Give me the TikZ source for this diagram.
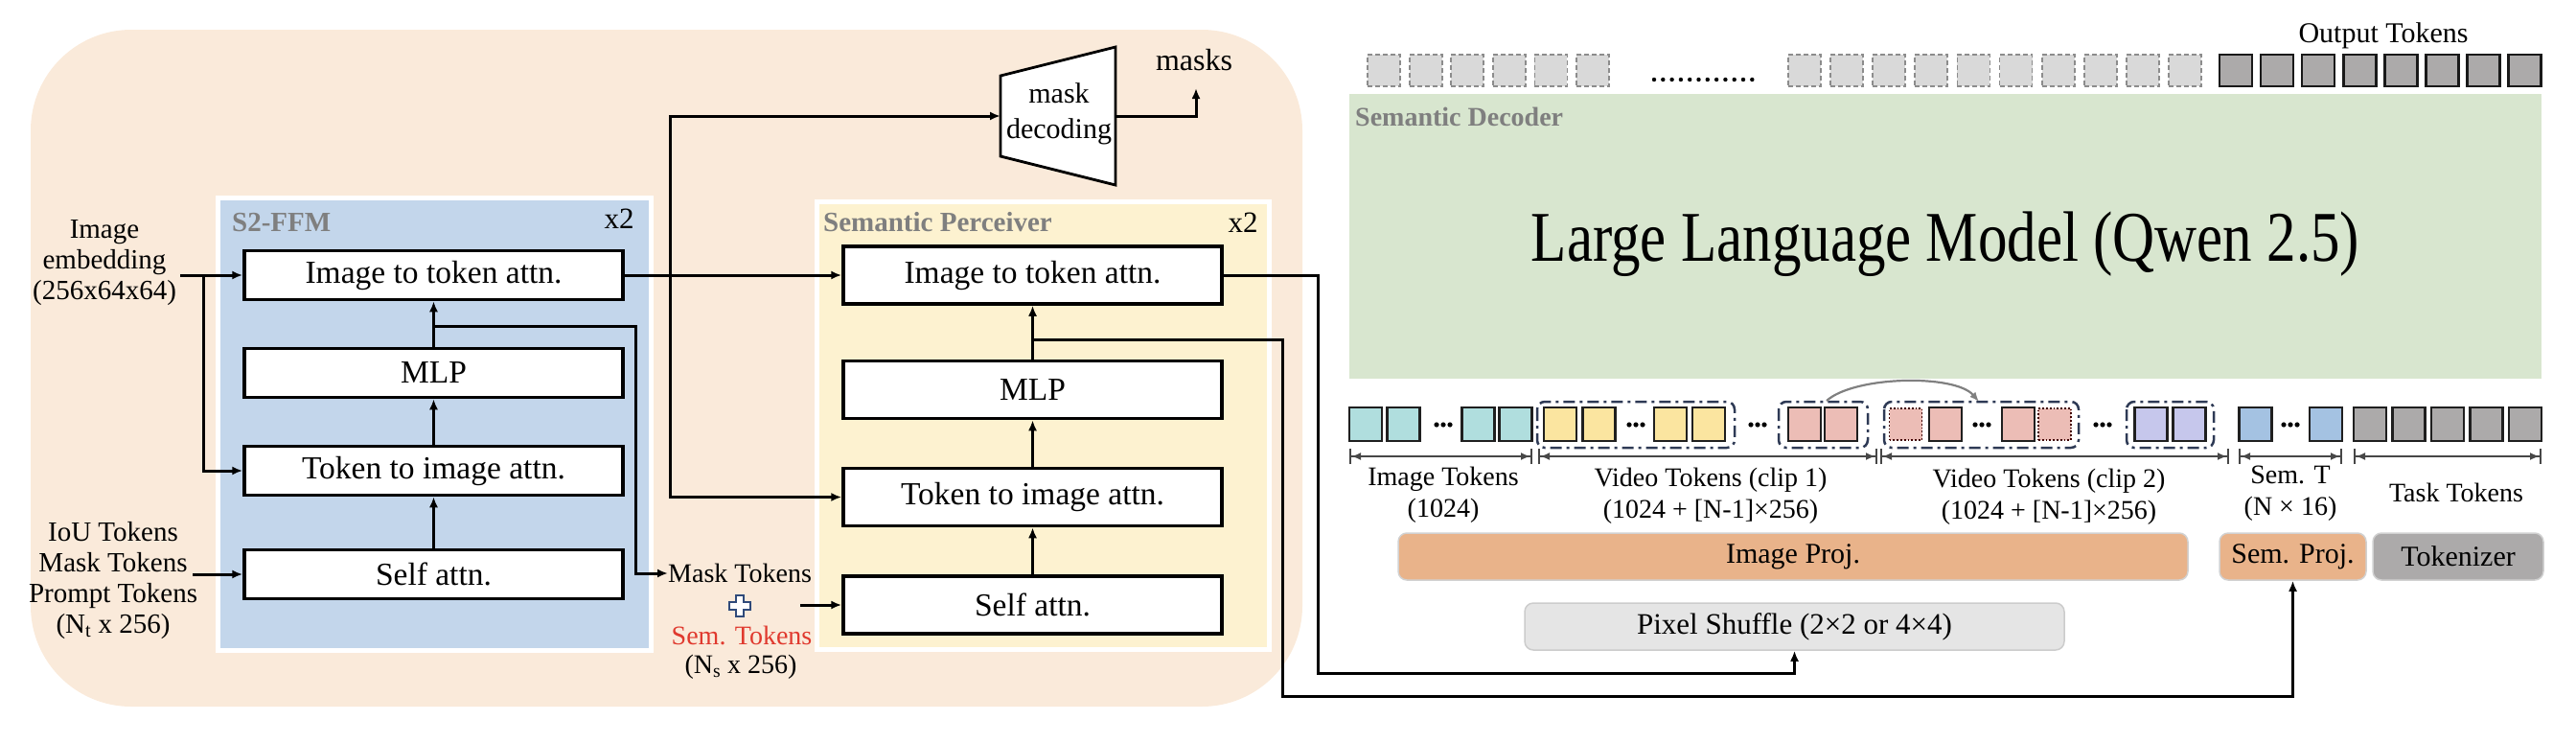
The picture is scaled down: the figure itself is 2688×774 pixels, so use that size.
\documentclass[tikz,border=0pt]{standalone}
\usepackage{fontspec}
\usepackage{graphicx}
\setmainfont{Liberation Serif}
\usetikzlibrary{arrows.meta}
\definecolor{beige}{HTML}{FAEADA}
\definecolor{panelblue}{HTML}{C3D6EB}
\definecolor{panelyellow}{HTML}{FDF2D0}
\definecolor{panelgreen}{HTML}{D8E6CF}
\definecolor{teal}{HTML}{B0DEDE}
\definecolor{tyellow}{HTML}{FBE5A0}
\definecolor{tpink}{HTML}{ECBDB6}
\definecolor{tpurple}{HTML}{C6C7EC}
\definecolor{tblue}{HTML}{A4C2E2}
\definecolor{tgray}{HTML}{ACAAAA}
\definecolor{dgray}{HTML}{D9D9D9}
\definecolor{titlegray}{HTML}{7F7F7F}
\definecolor{semred}{HTML}{E0392E}
\definecolor{navy}{HTML}{2E3A55}
\definecolor{projorange}{HTML}{E9B38A}
\definecolor{plusnavy}{HTML}{2F4A7A}
\tikzset{
  blk/.style={draw=black, line width=3.5pt, fill=white, minimum width=395pt, minimum height=51pt, inner sep=0pt, font=\fontsize{33.5}{37}\selectfont},
  spblk/.style={blk, minimum height=60pt},
  conn/.style={line width=3pt, -{Latex[length=11pt,width=9pt]}},
  plain/.style={line width=3pt},
  lab/.style={align=center, inner sep=0pt, font=\fontsize{29}{32}\selectfont},
  dimlab/.style={align=center, inner sep=0pt, font=\fontsize{28}{33}\selectfont},
  ttl/.style={inner sep=0pt, text=titlegray, font=\bfseries\fontsize{29}{33}\selectfont},
  tok/.style={draw=black!88, line width=2.5pt, minimum width=34pt, minimum height=35pt, inner sep=0pt},
  dottok/.style={draw=black!75!red, dotted, line width=1.8pt, minimum width=34pt, minimum height=33pt, inner sep=0pt, fill=tpink},
  dtok/.style={draw=black!45, dashed, dash pattern=on 5pt off 3pt, line width=1.8pt, fill=dgray, minimum width=34pt, minimum height=33pt, inner sep=0pt},
  otok/.style={draw=black!90, line width=2.5pt, fill=tgray, minimum width=34pt, minimum height=33pt, inner sep=0pt},
  grp/.style={draw=navy, line width=2.5pt, dash pattern=on 12pt off 5pt on 3pt off 5pt, rounded corners=8pt},
  dim/.style={draw=black!72, line width=2pt, {Bar[width=16pt]Latex[length=10pt,width=8pt]}-{Latex[length=10pt,width=8pt]Bar[width=16pt]}},
  bar/.style={draw=black!18, line width=1.5pt, rounded corners=9pt, inner sep=0pt, font=\fontsize{30}{34}\selectfont},
}
\begin{document}
\begin{tikzpicture}[x=1pt,y=-1pt]
\path[use as bounding box] (0,0) rectangle (2688,774);

% ---------- left big panel ----------
\fill[beige, rounded corners=105pt] (32,31) rectangle (1359,737);

% S2-FFM panel
\draw[white, line width=5pt, fill=panelblue] (227,206) rectangle (679,678);
\node[ttl, anchor=west] (s2title) at (242,232) {S2-FFM};
\node[inner sep=0pt, font=\fontsize{31}{34}\selectfont] (s2x) at (646,228) {x2};

\node[blk] (s2i) at (452.5,287) {Image to token attn.};
\node[blk] (s2m) at (452.5,389) {MLP};
\node[blk] (s2t) at (452.5,491) {Token to image attn.};
\node[blk] (s2s) at (452.5,599) {Self attn.};

\draw[conn] (s2s.north) -- (s2t.south);
\draw[conn] (s2t.north) -- (s2m.south);
\draw[conn] (s2m.north) -- (s2i.south);

% inputs
\node[lab] (imgemb) at (109,274) {Image\\embedding\\(256x64x64)};
\coordinate (ie) at (188,287);
\coordinate (iebr) at (212,287);
\draw[conn] (ie) -- (s2i.west);
\draw[conn] (iebr) -- (iebr |- s2t.west) -- (s2t.west);

\node[lab] (ioutok) at (118,606) {IoU Tokens\\Mask Tokens\\Prompt Tokens\\(N\textsubscript{t} x 256)};
\coordinate (iou) at (201,599);
\draw[conn] (iou) -- (s2s.west);

% Semantic Perceiver panel
\draw[white, line width=5pt, fill=panelyellow] (852.5,210.5) rectangle (1324.5,677.5);
\node[ttl, anchor=west] (sptitle) at (859,232) {Semantic Perceiver};
\node[inner sep=0pt, font=\fontsize{31}{34}\selectfont] (spx) at (1297,232) {x2};

\node[spblk] (spi) at (1077.5,287) {Image to token attn.};
\node[spblk] (spm) at (1077.5,406.5) {MLP};
\node[spblk] (spt) at (1077.5,518.5) {Token to image attn.};
\node[spblk] (sps) at (1077.5,631) {Self attn.};

\draw[conn] (sps.north) -- (spt.south);
\draw[conn] (spt.north) -- (spm.south);
\draw[conn] (spm.north) -- (spi.south);

% mask tokens + sem tokens
\node[lab, anchor=west, font=\fontsize{28}{32}\selectfont] (masktok) at (697,598) {Mask Tokens};
\draw[draw=plusnavy, fill=white, line width=1.8pt]
  (768,621) -- (776,621) -- (776,628) -- (783,628) -- (783,636) -- (776,636) -- (776,643)
  -- (768,643) -- (768,636) -- (761,636) -- (761,628) -- (768,628) -- cycle;
\node[lab, text=semred, font=\fontsize{28}{32}\selectfont] (semtok) at (774,663) {Sem. Tokens};
\node[lab, font=\fontsize{28}{32}\selectfont] (nstok) at (773,696) {(N\textsubscript{s} x 256)};
\coordinate (plusr) at (835,631);
\draw[conn] (plusr) -- (sps.west);

% S2 branch to mask tokens
\coordinate (s2b) at (452.5,340);
\coordinate (s2bc) at (663,340);
\draw[conn] (s2b) -- (s2bc) -- (s2bc |- masktok.west) -- (masktok.west);

% S2 output to SP
\draw[conn] (s2i.east) -- (spi.west);
\coordinate (junc) at (699,287);

% mask decoding
\draw[line width=2.8pt, fill=white] (1044,79) -- (1164,49) -- (1164,193) -- (1044,163) -- cycle;
\node[lab, font=\fontsize{30}{37}\selectfont] (mdtxt) at (1105,119) {mask\\decoding};
\coordinate (mdin) at (1044,121);
\coordinate (mdout) at (1164,121);
\coordinate (jtop) at (699,121);
\draw[conn] (junc) -- (jtop) -- (mdin);
\draw[conn] (junc) -- (junc |- spt.west) -- (spt.west);
\node[inner sep=0pt, font=\fontsize{32}{36}\selectfont] (masks) at (1246,63) {masks};
\coordinate (mcorner) at (1248,121);
\coordinate (masksin) at (1248,92);
\draw[conn] (mdout) -- (mcorner) -- (masksin);

% ---------- right part ----------
% top output tokens
\node[inner sep=0pt, font=\fontsize{30}{34}\selectfont] (outlab) at (2487,37) {Output Tokens};
\foreach \i in {0,...,5} \node[dtok] (oa\i) at ({1444+43.6*\i},73.5) {};
\foreach \i in {0,...,11} \fill ({1726+9.3*\i},83) circle (2.2pt);
\foreach \i in {0,...,9} \node[dtok] (ob\i) at ({1883+44.1*\i},73.5) {};
\foreach \i in {0,...,7} \node[otok] (oc\i) at ({2333+43.1*\i},73.5) {};

% semantic decoder
\fill[panelgreen] (1408,98) rectangle (2652,395);
\node[ttl, anchor=west, font=\bfseries\fontsize{28}{32}\selectfont] (sdtitle) at (1414,122) {Semantic Decoder};
\node[inner sep=0pt, font=\fontsize{61}{70}\selectfont] (llm) at (2030,255) {\scalebox{1}[1.22]{Large Language Model (Qwen 2.5)}};

% input tokens row
\node[tok, fill=teal] (ti1) at (1425,442.5) {};
\node[tok, fill=teal] (ti2) at (1464.5,442.5) {};
\node[tok, fill=teal] (ti3) at (1542.5,442.5) {};
\node[tok, fill=teal] (ti4) at (1581.5,442.5) {};
\foreach \x in {1499,1506,1513} \fill (\x,443) circle (2.6pt);

\draw[grp] (1604,419) rectangle (1810,467);
\node[tok, fill=tyellow] (ty1) at (1628,442.5) {};
\node[tok, fill=tyellow] (ty2) at (1668.5,442.5) {};
\node[tok, fill=tyellow] (ty3) at (1743,442.5) {};
\node[tok, fill=tyellow] (ty4) at (1783,442.5) {};
\foreach \x in {1700,1707,1714} \fill (\x,443) circle (2.6pt);
\foreach \x in {1827,1834,1841} \fill (\x,443) circle (2.6pt);

\draw[grp] (1856,419) rectangle (1949,467);
\node[tok, fill=tpink] (tp1) at (1883,442.5) {};
\node[tok, fill=tpink] (tp2) at (1921,442.5) {};

\draw[grp] (1966,419) rectangle (2169,467);
\node[dottok] (tp3) at (1988.5,442.5) {};
\node[tok, fill=tpink] (tp4) at (2030,442.5) {};
\foreach \x in {2061,2068,2075} \fill (\x,443) circle (2.6pt);
\node[tok, fill=tpink] (tp5) at (2106,442.5) {};
\node[dottok] (tp6) at (2144,442.5) {};
\foreach \x in {2187,2194,2201} \fill (\x,443) circle (2.6pt);

\draw[grp] (2219,419) rectangle (2310,467);
\node[tok, fill=tpurple] (tu1) at (2244.5,442.5) {};
\node[tok, fill=tpurple] (tu2) at (2284.5,442.5) {};

\node[tok, fill=tblue] (tb1) at (2353.5,442.5) {};
\node[tok, fill=tblue] (tb2) at (2427,442.5) {};
\foreach \x in {2383,2390,2397} \fill (\x,443) circle (2.6pt);

\foreach \i in {0,...,4} \node[tok, fill=tgray] (tg\i) at ({2473+40.5*\i},442.5) {};

% curved copy arrow
\coordinate (cpa) at (1906,418);
\coordinate (cpb) at (2065,419);
\draw[draw=black!50, line width=2.2pt, -{Latex[length=10pt,width=8pt]}] (cpa) .. controls (1935,392) and (2040,390) .. (cpb);

% dimension lines
\draw[dim] (1408,476) -- (1599,476);
\draw[dim] (1605,476) -- (1959,476);
\draw[dim] (1962,476) -- (2326,476);
\draw[dim] (2336,476) -- (2444,476);
\draw[dim] (2456,476) -- (2652,476);

\node[dimlab] (l1) at (1506,516) {Image Tokens\\(1024)};
\node[dimlab] (l2) at (1785,517) {Video Tokens (clip 1)\\(1024 + [N-1]×256)};
\node[dimlab] (l3) at (2138,518) {Video Tokens (clip 2)\\(1024 + [N-1]×256)};
\node[dimlab] (l4) at (2390,515) {Sem. T\\(N × 16)};
\node[dimlab] (l5) at (2563,514) {Task Tokens};

% projection bars
\node[bar, fill=projorange, minimum width=824pt, minimum height=49pt] (iproj) at (1871,580.5) {Image Proj.};
\node[bar, fill=projorange, minimum width=153pt, minimum height=49pt] (sproj) at (2392.5,580.5) {Sem. Proj.};
\node[bar, fill=tgray, minimum width=178pt, minimum height=49pt] (tkz) at (2565,580.5) {Tokenizer};
\node[bar, fill=black!10, draw=black!20, minimum width=563pt, minimum height=49pt, font=\fontsize{31}{34}\selectfont] (pxs) at (1872.5,653.5) {Pixel Shuffle (2×2 or 4×4)};

% long connectors from semantic perceiver
\coordinate (ra) at (1375,287);
\coordinate (rb) at (1375,702);
\draw[conn] (spi.east) -- (ra) -- (rb) -- (rb -| pxs.south) -- (pxs.south);
\coordinate (spb) at (1077.5,354);
\coordinate (sa) at (1338,354);
\coordinate (sb) at (1338,726);
\draw[conn] (spb) -- (sa) -- (sb) -- (sb -| sproj.south) -- (sproj.south);

\end{tikzpicture}
\end{document}
